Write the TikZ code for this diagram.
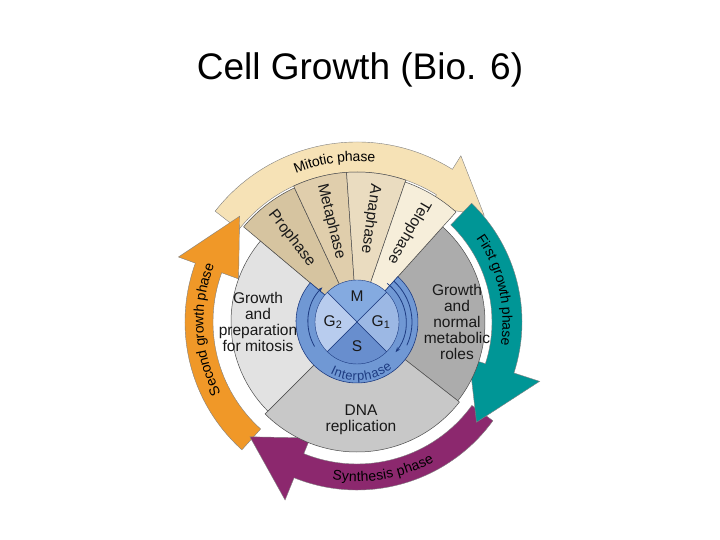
\documentclass[tikz,border=0pt]{standalone}
\usepackage{fontspec}
\setmainfont{Liberation Sans}
\usetikzlibrary{decorations.text,arrows.meta}
\definecolor{tanA}{RGB}{214,196,160}
\definecolor{tanB}{RGB}{224,206,172}
\definecolor{tanC}{RGB}{234,220,192}
\definecolor{tanD}{RGB}{246,238,218}
\definecolor{tanband}{RGB}{246,226,182}
\definecolor{gL}{RGB}{226,226,226}
\definecolor{gR}{RGB}{172,172,172}
\definecolor{gB}{RGB}{200,200,200}
\definecolor{bRing}{RGB}{112,152,212}
\definecolor{bM}{RGB}{132,170,224}
\definecolor{bG2}{RGB}{184,204,238}
\definecolor{bG1}{RGB}{156,184,228}
\definecolor{bS}{RGB}{104,142,206}
\definecolor{bDark}{RGB}{30,60,130}
\definecolor{teal}{RGB}{0,150,150}
\definecolor{purp}{RGB}{140,40,110}
\definecolor{orng}{RGB}{240,152,40}
\tikzset{
 x=1pt,y=1pt,
 sector/.style={draw=black!70,line width=0.5pt},
 band/.style={draw=black!50,line width=0.4pt},
 lbl/.style={font=\fontsize{15.5}{16}\selectfont,align=center,text=black!90},
 wl/.style={font=\fontsize{15.5}{16}\selectfont,text=black!90},
 arctext/.style={decorate,decoration={text along path,text align=center,raise=-4.5pt,text={#1}}}
}
\begin{document}
\begin{tikzpicture}
\useasboundingbox (-357,-218) rectangle (363,322);
\node[font=\fontsize{37}{40}\selectfont] (title) at (3,252) {Cell Growth (Bio. 6)};
% arrows
\fill[tanband,band] (142:150) arc[start angle=142,end angle=58,radius=150] -- (58:136) -- (40:166) -- (58:196) -- (58:180) arc[start angle=58,end angle=142,radius=180] -- cycle;
\fill[orng,band] (-132:144) arc[start angle=-132,end angle=-200,radius=144] -- (-200:126) -- (-222:158) -- (-200:190) -- (-200:172) arc[start angle=-200,end angle=-132,radius=172] -- cycle;
\fill[purp,band] (-36:142) arc[start angle=-36,end angle=-112,radius=142] -- (-112:125) -- (-133:157) -- (-112:192) -- (-112:168) arc[start angle=-112,end angle=-36,radius=168] -- cycle;
\fill[teal,band] (46:135) arc[start angle=46,end angle=-18,radius=135] -- (-18:118) -- (-40:156) -- (-18:192) -- (-18:165) arc[start angle=-18,end angle=46,radius=165] -- cycle;
% sectors
\filldraw[gR,sector] (0,0) -- (-38:128) arc[start angle=-38,end angle=48,radius=128] -- cycle;
\filldraw[gB,sector] (0,0) -- (-135:130) arc[start angle=-135,end angle=-38,radius=130] -- cycle;
\filldraw[gL,sector] (0,0) -- (140:126) arc[start angle=140,end angle=225,radius=126] -- cycle;
\filldraw[tanA,sector] (0,0) -- (140:148) arc[start angle=140,end angle=115,radius=148] -- cycle;
\filldraw[tanB,sector] (0,0) -- (115:150) arc[start angle=115,end angle=94,radius=150] -- cycle;
\filldraw[tanC,sector] (0,0) -- (94:150) arc[start angle=94,end angle=71,radius=150] -- cycle;
\filldraw[tanD,sector] (0,0) -- (71:148) arc[start angle=71,end angle=48,radius=148] -- cycle;
% wedge labels
\node[wl,rotate=-52] (pro) at (128:106) {Prophase};
\node[wl,rotate=-76] (meta) at (104.5:104) {Metaphase};
\node[wl,rotate=-98] (ana) at (82.5:104) {Anaphase};
\node[wl,rotate=-120] (telo) at (60:104) {Telophase};
% central circle
\filldraw[bRing,draw=bDark,line width=0.6pt] (0,0) -- (48:61) arc[start angle=48,end angle=-220,radius=61] -- cycle;
\filldraw[bM,draw=bDark] (0,0) -- (45:42) arc[start angle=45,end angle=135,radius=42] -- cycle;
\filldraw[bG2,draw=bDark] (0,0) -- (135:42) arc[start angle=135,end angle=225,radius=42] -- cycle;
\filldraw[bS,draw=bDark] (0,0) -- (225:42) arc[start angle=225,end angle=315,radius=42] -- cycle;
\filldraw[bG1,draw=bDark] (0,0) -- (315:42) arc[start angle=315,end angle=405,radius=42] -- cycle;
\draw[bDark,line width=0.8pt,-{Stealth[length=5pt]}] (52:49) arc[start angle=52,end angle=-38,radius=49];
\draw[bDark,line width=0.8pt] (48:55) arc[start angle=48,end angle=-25,radius=55];
\draw[bDark,line width=0.8pt,-{Stealth[length=5pt]}] (-150:49) arc[start angle=-150,end angle=-225,radius=49];
\node[lbl] (M) at (0,26) {M};
\node[lbl] (G2) at (-24,0) {G\textsubscript{2}};
\node[lbl] (G1) at (24,0) {G\textsubscript{1}};
\node[lbl] (S) at (0,-24) {S};
\path[postaction={arctext={|\fontsize{13}{14}\selectfont\color{bDark}|Interphase}}] (-140:54) arc[start angle=-140,end angle=-30,radius=54];
% sector labels
\node[lbl] (g2txt) at (-99,0) {Growth\\and\\preparation\\for mitosis};
\node[lbl] (g1txt) at (100,0) {Growth\\and\\normal\\metabolic\\roles};
\node[lbl] (stxt) at (4,-98) {DNA\\replication};
% arc labels
\path[postaction={arctext={|\fontsize{14}{15}\selectfont|Mitotic phase}}] (128:165) arc[start angle=128,end angle=68,radius=165];
\path[postaction={arctext={|\fontsize{14}{15}\selectfont|First growth phase}}] (48:150) arc[start angle=48,end angle=-22,radius=150];
\path[postaction={arctext={|\fontsize{14}{15}\selectfont|Synthesis phase}}] (-114:155) arc[start angle=-114,end angle=-46,radius=155];
\path[postaction={arctext={|\fontsize{14}{15}\selectfont|Second growth phase}}] (-140:158) arc[start angle=-140,end angle=-214,radius=158];
\end{tikzpicture}
\end{document}
